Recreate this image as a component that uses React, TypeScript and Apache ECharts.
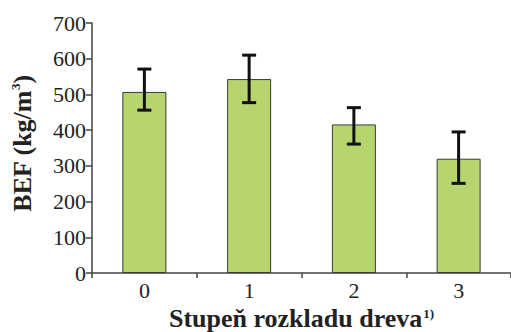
import React, { useEffect, useRef } from "react";
import * as echarts from "echarts";

const categories = ["0", "1", "2", "3"];
const values = [507, 543, 416, 320];
const errLow = [456, 477, 361, 251];
const errHigh = [571, 610, 463, 395];
const yTicks = { min: 0, max: 700, interval: 100 };

const FONT = "Liberation Serif";

export default function App() {
  const ref = useRef<HTMLDivElement>(null);
  useEffect(() => {
    if (!ref.current) return;
    const chart = echarts.init(ref.current, undefined, { renderer: "svg" });
    chart.setOption({
      animation: false,
      backgroundColor: "#ffffff",
      grid: { left: 92, right: 0, top: 23, bottom: 59, containLabel: false, outerBoundsMode: "none" },
      xAxis: {
        type: "category",
        data: categories,
        boundaryGap: true,
        axisLine: { lineStyle: { color: "#444", width: 1.5 } },
        axisTick: { show: true, length: 5, lineStyle: { color: "#444", width: 1.5 } },
        axisLabel: { fontFamily: FONT, fontSize: 22, color: "#222", margin: 6 },
        name: "{a|Stupeň rozkladu dreva}{s|1)}",
        nameLocation: "middle",
        nameGap: 33,
        nameTextStyle: {
          rich: {
            a: { fontFamily: FONT, fontSize: 26, fontWeight: "bold", color: "#222", lineHeight: 24 },
            s: { fontFamily: FONT, fontSize: 13, fontWeight: "bold", color: "#222", verticalAlign: "top", lineHeight: 24, padding: [0, 0, 8, 1] },
          },
        },
      },
      yAxis: {
        type: "value",
        min: yTicks.min,
        max: yTicks.max,
        interval: yTicks.interval,
        splitLine: { show: false },
        axisLine: { show: true, lineStyle: { color: "#444", width: 1.5 } },
        axisTick: { show: true, length: 6, lineStyle: { color: "#444", width: 1.5 } },
        axisLabel: { fontFamily: FONT, fontSize: 22, color: "#222", margin: 6 },
        name: "{a|BEF (kg/m}{s|3}{a|)}",
        nameLocation: "middle",
        nameGap: 57,
        nameRotate: 90,
        nameTextStyle: {
          padding: [0, 0, 0, 9],
          rich: {
            a: { fontFamily: FONT, fontSize: 26, fontWeight: "bold", color: "#222", lineHeight: 26 },
            s: { fontFamily: FONT, fontSize: 13, fontWeight: "bold", color: "#222", verticalAlign: "top", lineHeight: 26, padding: [0, 0, 9, 0] },
          },
        },
      },
      series: [
        {
          type: "bar",
          data: values,
          barWidth: 44,
          itemStyle: { color: "#b7d56f", borderColor: "#3a3a3a", borderWidth: 1 },
        },
        {
          type: "custom",
          data: categories.map((_, i) => [i, errLow[i], errHigh[i]]),
          renderItem: (params: any, api: any) => {
            const x = api.value(0);
            const lo = api.coord([x, api.value(1)]);
            const hi = api.coord([x, api.value(2)]);
            const cw = 7;
            const style = { stroke: "#111", lineWidth: 3 };
            return {
              type: "group",
              children: [
                { type: "line", shape: { x1: lo[0], y1: lo[1], x2: hi[0], y2: hi[1] }, style },
                { type: "line", shape: { x1: hi[0] - cw, y1: hi[1], x2: hi[0] + cw, y2: hi[1] }, style },
                { type: "line", shape: { x1: lo[0] - cw, y1: lo[1], x2: lo[0] + cw, y2: lo[1] }, style },
              ],
            };
          },
          z: 10,
        },
      ],
    });
    return () => chart.dispose();
  }, []);
  return (
    <div
      ref={ref}
      style={{ position: "fixed", left: 0, top: 0, width: 511, height: 332, background: "#fff" }}
    />
  );
}
